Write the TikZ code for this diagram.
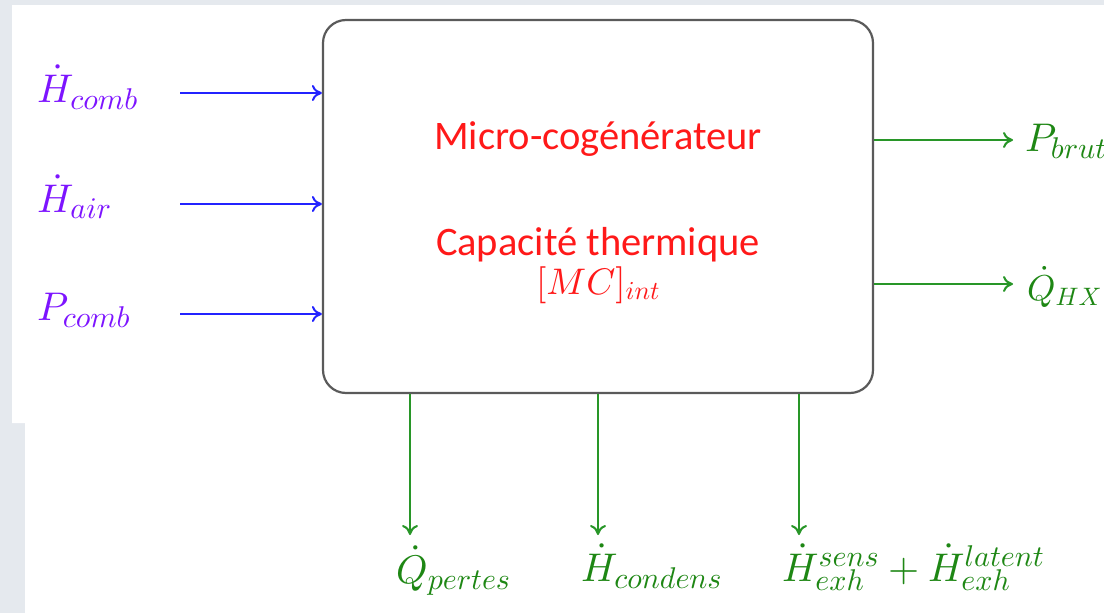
\documentclass[tikz,border=0pt]{standalone}
\usepackage{fontspec}
\newfontfamily\calibri{Carlito}
\DeclareFontShape{OML}{cmm}{m}{it}{<->cmmi10}{}
\DeclareFontShape{OMS}{cmsy}{m}{n}{<->cmsy10}{}
\DeclareFontShape{OT1}{cmr}{m}{n}{<->cmr10}{}
\DeclareMathSizes{40}{40}{30}{22}
\usetikzlibrary{arrows.meta}
\definecolor{fond}{RGB}{229,233,238}
\definecolor{cadre}{RGB}{90,90,90}
\definecolor{rouge}{RGB}{255,25,25}
\definecolor{bleuin}{RGB}{35,35,255}
\definecolor{violetlab}{RGB}{125,20,255}
\definecolor{vertfl}{RGB}{40,150,40}
\definecolor{vertlab}{RGB}{30,135,20}

\begin{document}
\begin{tikzpicture}[x=1pt,y=-1pt,
  bloc/.style={draw=cadre, line width=2.2pt, rounded corners=23pt, minimum width=550pt, minimum height=373pt, inner sep=0pt},
  titre/.style={text=rouge, font=\calibri\fontsize{40.5}{48}\selectfont, inner sep=0pt, anchor=base},
  entree/.style={draw=bleuin, line width=2pt, -{To[length=10pt,width=16pt]}},
  sortie/.style={draw=vertfl, line width=2pt, -{To[length=10pt,width=16pt]}},
  lbin/.style={text=violetlab, font=\fontsize{40}{48}\selectfont, inner sep=0pt, anchor=base west},
  lbout/.style={text=vertlab, font=\fontsize{40}{48}\selectfont, inner sep=0pt, anchor=base west}]
\useasboundingbox (0,0) rectangle (1104,613);
\fill[fond] (0,0) rectangle (1104,613);
\fill[white] (12,5) -- (1104,5) -- (1104,613) -- (25,613) -- (25,423) -- (12,423) -- cycle;
\node[bloc] (mcg) at (598,206.5) {};
\node[titre] (nom) at (598,149) {Micro-cogénérateur};
\node[titre] (capa) at (598,255) {Capacité thermique};
\node[titre, font=\fontsize{37}{44}\selectfont] (mc) at (598,294) {$[MC]_{int}$};
\node[lbin] (hcomb) at (37,102) {$\dot{H}_{comb}$};
\node[lbin] (hair) at (37,212) {$\dot{H}_{air}$};
\node[lbin] (pcomb) at (37,320) {$P_{comb}$};
\coordinate (e1) at (180,93);
\coordinate (e2) at (180,204);
\coordinate (e3) at (180,314);
\draw[entree] (e1) -- (e1 -| mcg.west);
\draw[entree] (e2) -- (e2 -| mcg.west);
\draw[entree] (e3) -- (e3 -| mcg.west);
\coordinate (s1) at (1013,140);
\coordinate (s2) at (1013,284);
\draw[sortie] (s1 -| mcg.east) -- (s1);
\draw[sortie] (s2 -| mcg.east) -- (s2);
\node[lbout] (pbrut) at (1025,151) {$P_{brut}$};
\node[lbout, font=\fontsize{36}{44}\selectfont] (qhx) at (1027,300) {$\dot{Q}_{HX}$};
\coordinate (b1) at (410,535);
\coordinate (b2) at (598,535);
\coordinate (b3) at (799,535);
\draw[sortie] (b1 |- mcg.south) -- (b1);
\draw[sortie] (b2 |- mcg.south) -- (b2);
\draw[sortie] (b3 |- mcg.south) -- (b3);
\node[lbout] (qpertes) at (396,583) {$\dot{Q}_{pertes}$};
\node[lbout] (hcond) at (581,581) {$\dot{H}_{condens}$};
\node[lbout] (hexh) at (782,581) {$\dot{H}_{exh}^{sens}+\dot{H}_{exh}^{latent}$};
\end{tikzpicture}
\end{document}
